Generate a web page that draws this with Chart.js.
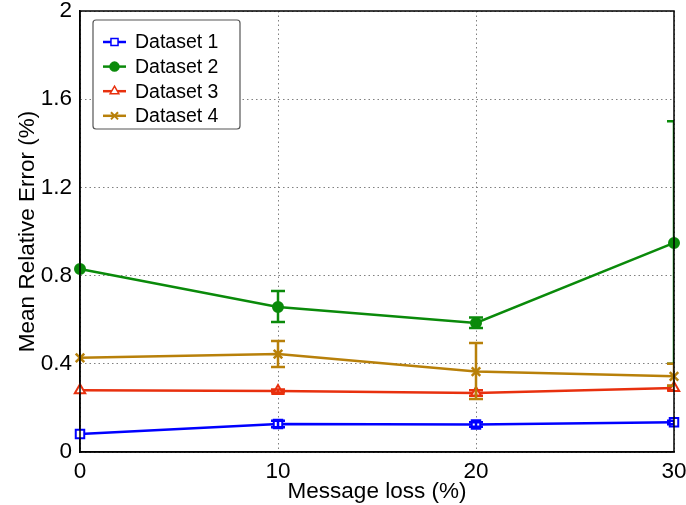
<!DOCTYPE html>
<html>
<head>
<meta charset="utf-8">
<script src="https://cdn.jsdelivr.net/npm/chart.js@4"></script>
<style>
  html, body { margin: 0; padding: 0; background: #fff; }
  #wrap { width: 686px; height: 505px; }
</style>
</head>
<body>
<div id="wrap"><canvas id="chart" width="686" height="505"></canvas></div>
<script>
const xValues = [0, 10, 20, 30];
const yTicks = [0, 0.4, 0.8, 1.2, 1.6, 2];
const seriesNames = ["Dataset 1", "Dataset 2", "Dataset 3", "Dataset 4"];

const ds1 = [0.082, 0.127, 0.125, 0.135];
const ds1Low = [0.082, 0.112, 0.115, 0.126];
const ds1High = [0.082, 0.142, 0.135, 0.142];

const ds2 = [0.83, 0.658, 0.585, 0.948];
const ds2Low = [0.83, 0.59, 0.562, 0.40];
const ds2High = [0.83, 0.73, 0.61, 1.50];

const ds3 = [0.28, 0.277, 0.268, 0.29];
const ds3Low = [0.28, 0.27, 0.255, 0.28];
const ds3High = [0.28, 0.284, 0.28, 0.30];

const ds4 = [0.427, 0.444, 0.365, 0.343];
const ds4Low = [0.427, 0.385, 0.24, 0.30];
const ds4High = [0.427, 0.503, 0.494, 0.40];

const colors = ["#0000ff", "#0a8a0a", "#e8300e", "#b8800a"];
const markers = ["rect", "circle", "triangle", "crossRot"];
const markerFill = ["#ffffff", "#0a8a0a", "#ffffff", "#b8800a"];

const FONT = "'Liberation Sans', Arial, sans-serif";

function points(ys) {
  return xValues.map((x, i) => ({ x: x, y: ys[i] }));
}

const values = [ds1, ds2, ds3, ds4];
const lows = [ds1Low, ds2Low, ds3Low, ds4Low];
const highs = [ds1High, ds2High, ds3High, ds4High];

// error bars drawn through the chart's own scales
const errorBars = {
  id: "errorBars",
  afterDatasetsDraw(chart) {
    const { ctx, chartArea, scales } = chart;
    ctx.save();
    ctx.beginPath();
    ctx.rect(chartArea.left, chartArea.top, chartArea.right - chartArea.left, chartArea.bottom - chartArea.top);
    ctx.clip();
    ctx.lineWidth = 2.5;
    for (let s = 0; s < values.length; s++) {
      ctx.strokeStyle = colors[s];
      for (let i = 0; i < xValues.length; i++) {
        if (lows[s][i] === highs[s][i]) continue;
        const px = scales.x.getPixelForValue(xValues[i]);
        const y1 = scales.y.getPixelForValue(lows[s][i]);
        const y2 = scales.y.getPixelForValue(highs[s][i]);
        ctx.beginPath();
        ctx.moveTo(px, y1); ctx.lineTo(px, y2);
        ctx.moveTo(px - 7, y1); ctx.lineTo(px + 7, y1);
        ctx.moveTo(px - 7, y2); ctx.lineTo(px + 7, y2);
        ctx.stroke();
      }
    }
    ctx.restore();
  }
};

// full frame and boxed legend (line + marker like the original)
const frameAndLegend = {
  id: "frameAndLegend",
  afterDraw(chart) {
    const { ctx, chartArea } = chart;
    ctx.save();
    ctx.strokeStyle = "#000";
    ctx.lineWidth = 1.5;
    ctx.strokeRect(chartArea.left, chartArea.top, chartArea.right - chartArea.left, chartArea.bottom - chartArea.top);

    const bx = 93, by = 20, bw = 147, bh = 109;
    ctx.fillStyle = "#fff";
    ctx.strokeStyle = "#555";
    ctx.lineWidth = 1.2;
    ctx.beginPath();
    ctx.roundRect(bx, by, bw, bh, 3);
    ctx.fill();
    ctx.stroke();

    ctx.font = "19.5px " + FONT;
    ctx.textBaseline = "middle";
    for (let s = 0; s < seriesNames.length; s++) {
      const y = 42 + s * 24.6;
      ctx.strokeStyle = colors[s];
      ctx.lineWidth = 2.5;
      ctx.beginPath();
      ctx.moveTo(103, y); ctx.lineTo(126, y);
      ctx.stroke();
      ctx.fillStyle = markerFill[s];
      ctx.strokeStyle = colors[s];
      ctx.lineWidth = markers[s] === "crossRot" ? 2 : 1.5;
      Chart.helpers.drawPoint(ctx, {
        pointStyle: markers[s], radius: markers[s] === "circle" ? 4.5 : 5,
        rotation: 0, borderWidth: ctx.lineWidth
      }, 114.5, y);
      ctx.fillStyle = "#000";
      ctx.fillText(seriesNames[s], 135, y + 1);
    }
    ctx.restore();
  }
};

const chart = new Chart(document.getElementById("chart"), {
  type: "line",
  data: {
    datasets: seriesNames.map((name, s) => ({
      label: name,
      data: points(values[s]),
      borderColor: colors[s],
      backgroundColor: markerFill[s],
      borderWidth: 2.5,
      pointStyle: markers[s],
      pointRadius: markers[s] === "circle" ? 5 : 6,
      pointBorderWidth: markers[s] === "crossRot" ? 2.5 : 2,
      pointBorderColor: colors[s],
      pointBackgroundColor: markerFill[s],
      tension: 0,
      clip: false
    }))
  },
  options: {
    responsive: false,
    animation: false,
    layout: { padding: { top: 11, right: 12, left: 0, bottom: 0 } },
    plugins: {
      legend: { display: false },
      tooltip: { enabled: false }
    },
    scales: {
      x: {
        type: "linear",
        min: 0, max: 30,
        afterBuildTicks(scale) { scale.ticks = xValues.map(v => ({ value: v })); },
        afterFit(scale) { scale.height = 53; scale.paddingLeft = 0; scale.paddingRight = 0; },
        ticks: { font: { family: FONT, size: 22.5 }, color: "#000", padding: 6, maxRotation: 0 },
        grid: { color: "#808080", lineWidth: 1, drawTicks: false },
        border: { display: true, color: "#000", width: 1.5, dash: [1.5, 3] },
        title: { display: true, text: "Message loss (%)", font: { family: FONT, size: 22.5 }, color: "#000", padding: { top: 0, bottom: 0 } }
      },
      y: {
        min: 0, max: 2,
        afterBuildTicks(scale) { scale.ticks = yTicks.map(v => ({ value: v })); },
        afterFit(scale) { scale.width = 80; scale.paddingTop = 0; scale.paddingBottom = 0; },
        ticks: {
          font: { family: FONT, size: 22.5 }, color: "#000", padding: 8,
          callback: v => String(v)
        },
        grid: { color: "#808080", lineWidth: 1, drawTicks: false },
        border: { display: true, color: "#000", width: 1.5, dash: [1.5, 3] },
        title: { display: true, text: "Mean Relative Error (%)", font: { family: FONT, size: 22.5 }, color: "#000", padding: { top: 14, bottom: 0 } }
      }
    }
  },
  plugins: [errorBars, frameAndLegend]
});
</script>
</body>
</html>
